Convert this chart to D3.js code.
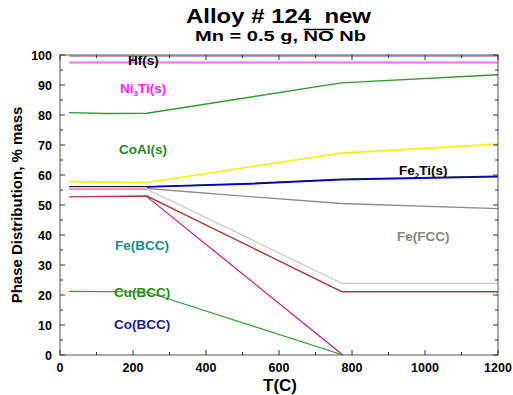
<!DOCTYPE html>
<html><head><meta charset="utf-8">
<script src="https://cdn.jsdelivr.net/npm/d3@7"></script>
<style>body{margin:0;background:#fff}svg{display:block}text{font-family:Arial,"Liberation Sans",sans-serif;font-weight:bold}</style>
</head><body><svg id="c" width="513" height="395"></svg>
<script>
const xTicks = [0,200,400,600,800,1000,1200];
const yTicks = [0,10,20,30,40,50,60,70,80,90,100];
const hfLine    = [[25,99.6],[1200,99.6]];
const ni3tiLine = [[25,97.5],[1200,97.5]];
const coalTop   = [[25,80.8],[125,80.5],[238,80.6],[770,90.7],[1200,93.4]];
const coalBot   = [[25,57.8],[238,57.5],[770,67.3],[1200,70.3]];
const fe2tiBlack= [[25,56.1],[238,56.1],[520,57.2],[770,58.6],[1200,59.6]];
const fe2tiBlue = [[238,56.0],[520,57.0],[770,58.4],[1200,59.4]];
const pinkLow   = [[25,55.3],[238,55.3]];
const fccTop    = [[238,55.5],[520,52.8],[770,50.5],[1200,48.8]];
const fccLight  = [[238,55.3],[772,23.9],[1200,23.9]];
const bccRed    = [[25,52.7],[238,53.0],[772,21.1],[1200,21.1]];
const bccMag    = [[238,52.8],[775,0]];
const cuBcc     = [[25,21.2],[238,21.0],[775,0]];

const svg = d3.select("#c");
const L=60,R=498,T=55,B=355;
const x = d3.scaleLinear().domain([0,1200]).range([L,R]);
const y = d3.scaleLinear().domain([0,100]).range([B,T]);

const line = d3.line().x(d=>x(d[0])).y(d=>y(d[1]));
function draw(data,color,w){
  svg.append("path").attr("d",line(data)).attr("fill","none").attr("stroke",color).attr("stroke-width",w);
}
draw(hfLine,"#8a8a8a",1.3);
draw(ni3tiLine,"#ff70ff",2);
draw(coalTop,"#2f9a2f",1.4);
draw(coalBot,"#f4f400",1.6);
draw(fccTop,"#8c8c8c",1.3);
draw(fccLight,"#cccccc",1.3);
draw(bccRed,"#b03a3a",1.4);
draw(bccMag,"#c01a80",1.2);
draw(cuBcc,"#2a9a2a",1.2);
draw(pinkLow,"#ff80c0",1.6);
draw(fe2tiBlack,"#222",1.3);
draw(fe2tiBlue,"#0000cc",1.5);

// frame
svg.append("rect").attr("x",L).attr("y",T).attr("width",R-L).attr("height",B-T).attr("fill","none").attr("stroke","#555").attr("stroke-width",1);
const g = svg.append("g");
function tick(x1,y1,x2,y2){g.append("line").attr("x1",x1).attr("y1",y1).attr("x2",x2).attr("y2",y2).attr("stroke","#333").attr("stroke-width",1);}
for(let v=0; v<=1200; v+=100){
  const len = v%200===0?5:3;
  tick(x(v),B,x(v),B-len); tick(x(v),T,x(v),T+len);
}
for(let v=0; v<=100; v+=5){
  const len = v%10===0?5:3;
  tick(L,y(v),L+len,y(v)); tick(R,y(v),R-len,y(v));
}
svg.selectAll(".xt").data(xTicks).enter().append("text").attr("x",d=>x(d)).attr("y",372)
  .attr("text-anchor","middle").attr("font-size",12.5).text(d=>d);
svg.selectAll(".yt").data(yTicks).enter().append("text").attr("x",52).attr("y",d=>y(d)+4.5)
  .attr("text-anchor","end").attr("font-size",12.5).text(d=>d);

// titles
svg.append("text").attr("x",186).attr("y",23).attr("font-size",21)
  .attr("textLength",185).attr("lengthAdjust","spacingAndGlyphs").text("Alloy # 124\u00a0 new");
const sub = svg.append("text").attr("x",195).attr("y",41).attr("font-size",15.5)
  .attr("textLength",171).attr("lengthAdjust","spacingAndGlyphs");
sub.append("tspan").text("Mn = 0.5 g, ");
const no = sub.append("tspan").text("NO");
sub.append("tspan").text(" Nb");
const bb = no.node().getBBox();
svg.append("line").attr("x1",bb.x).attr("x2",bb.x+bb.width).attr("y1",bb.y+2.5).attr("y2",bb.y+2.5).attr("stroke","#000").attr("stroke-width",1.5);

svg.append("text").attr("x",280).attr("y",391).attr("text-anchor","middle").attr("font-size",17).text("T(C)");
svg.append("text").attr("transform","translate(22,205) rotate(-90)").attr("text-anchor","middle").attr("font-size",15).text("Phase Distribution, % mass");

// labels
function lab(tx,ty,color,parts){
  const t = svg.append("text").attr("x",tx).attr("y",ty).attr("font-size",13.5).attr("fill",color);
  parts.forEach(p=>{
    const s=t.append("tspan").text(p[0]);
    if(p[1]) s.attr("font-size",8).attr("dy",3);
    if(p[2]) s.attr("dy",-3);
  });
}
lab(128,65,"#000",[["Hf(s)"]]);
lab(120,93,"#ff22ff",[["Ni"],["3",1],["Ti(s)",0,1]]);
lab(119,154,"#1e8c1e",[["CoAl(s)"]]);
lab(399,175,"#000",[["Fe"],["2",1],["Ti(s)",0,1]]);
lab(115,250,"#1a8c8c",[["Fe(BCC)"]]);
lab(114,297,"#2a8a0a",[["Cu(BCC)"]]);
lab(114,329,"#1a1a99",[["Co(BCC)"]]);
lab(397,241,"#8c8580",[["Fe(FCC)"]]);
</script></body></html>
